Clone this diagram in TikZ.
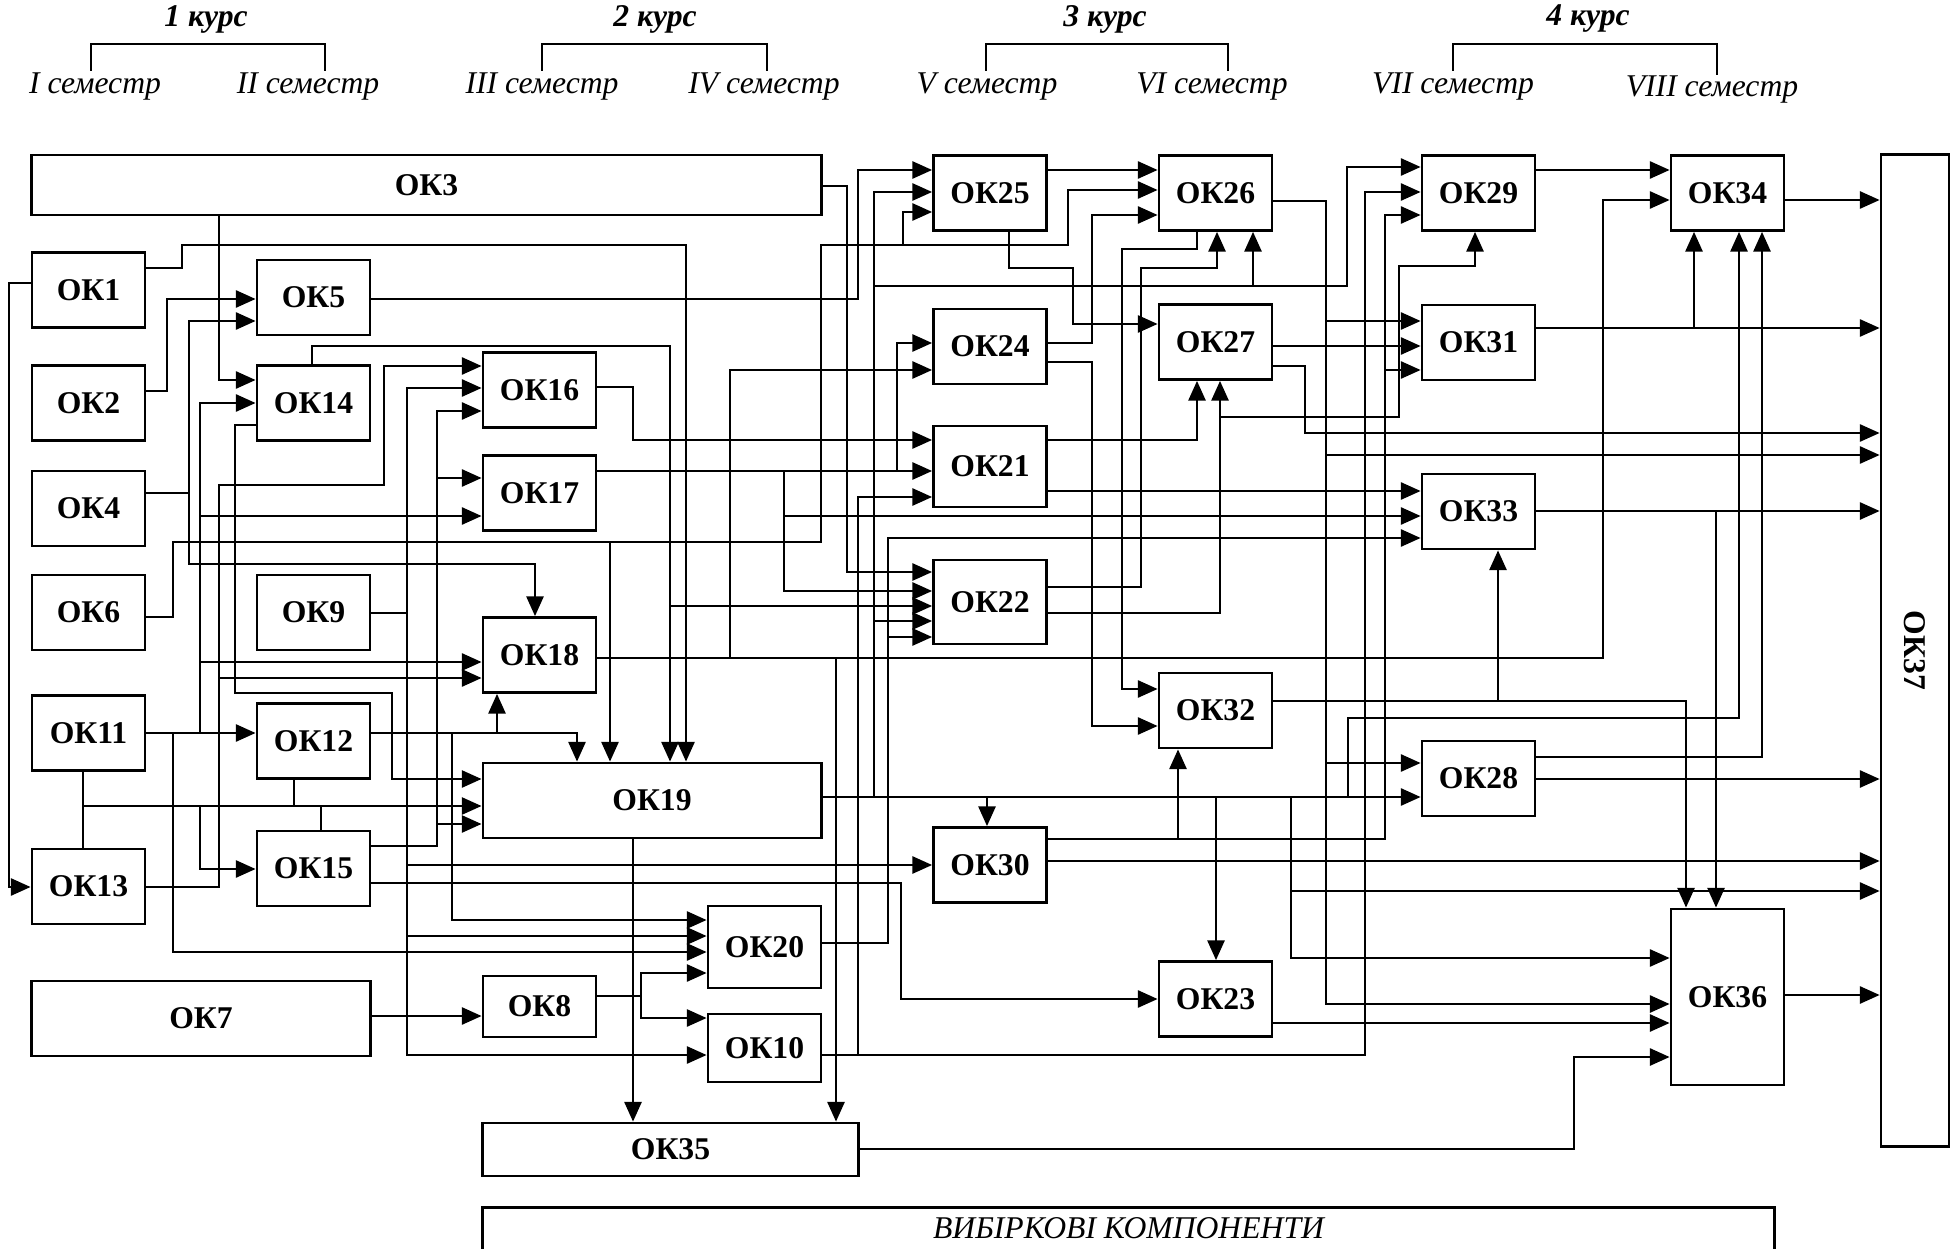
\documentclass[tikz,border=0pt]{standalone}
\usepackage{fontspec}
\usepackage{graphicx}
\setmainfont{Liberation Serif}
\usetikzlibrary{arrows.meta}
\tikzset{
  okbox/.style={draw, line width=0.8pt, inner sep=0pt, minimum width=1.13cm, minimum height=0.75cm,
    font=\fontsize{9}{10}\selectfont\bfseries},
  arr/.style={line width=0.55pt, -{Triangle[length=5.6pt,width=4.9pt]}},
  ln/.style={line width=0.55pt},
  kurs/.style={font=\fontsize{9}{10}\selectfont\bfseries\itshape},
  sem/.style={font=\fontsize{9}{10}\selectfont\itshape},
}
\begin{document}
\begin{tikzpicture}[x=0.01cm, y=-0.01cm]
\useasboundingbox (0,0) rectangle (1955,1249);
\clip (0,0) rectangle (1955,1249);

% courses and semesters
\node[kurs] (k1) at (206,19) {1 курс};
\node[kurs] (k2) at (655,19) {2 курс};
\node[kurs] (k3) at (1105,19) {3 курс};
\node[kurs] (k4) at (1588,19) {4 курс};
\node[sem] (s1) at (95,87) {I семестр};
\node[sem] (s2) at (308,87) {II семестр};
\node[sem] (s3) at (542,87) {III семестр};
\node[sem] (s4) at (764,87) {IV семестр};
\node[sem] (s5) at (987,87) {V семестр};
\node[sem] (s6) at (1212,87) {VI семестр};
\node[sem] (s7) at (1453,87) {VII семестр};
\node[sem] (s8) at (1712,90) {VIII семестр};
\draw[ln] (91,71) |- (325,44) -- (325,71);
\draw[ln] (542,71) |- (767,44) -- (767,71);
\draw[ln] (986,71) |- (1228,44) -- (1228,71);
\draw[ln] (1453,71) |- (1717,44) -- (1717,75);

% components
\node[okbox, minimum width=7.89cm, minimum height=0.6cm] (ok3) at (426.5,185) {ОК3};
\node[okbox] (ok1) at (88.5,290) {ОК1};
\node[okbox] (ok2) at (88.5,403) {ОК2};
\node[okbox] (ok4) at (88.5,508.5) {ОК4};
\node[okbox] (ok6) at (88.5,612.5) {ОК6};
\node[okbox] (ok11) at (88.5,733) {ОК11};
\node[okbox] (ok13) at (88.5,886.5) {ОК13};
\node[okbox, minimum width=3.38cm] (ok7) at (201,1018.5) {ОК7};
\node[okbox] (ok5) at (313.5,297.5) {ОК5};
\node[okbox] (ok14) at (313.5,403) {ОК14};
\node[okbox] (ok9) at (313.5,612.5) {ОК9};
\node[okbox] (ok12) at (313.5,741) {ОК12};
\node[okbox] (ok15) at (313.5,868.5) {ОК15};
\node[okbox] (ok16) at (539.5,390) {ОК16};
\node[okbox] (ok17) at (539.5,493) {ОК17};
\node[okbox] (ok18) at (539.5,655) {ОК18};
\node[okbox, minimum width=3.38cm] (ok19) at (652,800.5) {ОК19};
\node[okbox, minimum height=0.61cm] (ok8) at (539.5,1006.5) {ОК8};
\node[okbox, minimum width=3.75cm, minimum height=0.53cm] (ok35) at (670.5,1149.5) {ОК35};
\node[okbox, minimum height=0.82cm] (ok20) at (764.5,947) {ОК20};
\node[okbox, minimum height=0.68cm] (ok10) at (764.5,1048) {ОК10};
\node[okbox] (ok25) at (990,193) {ОК25};
\node[okbox] (ok24) at (990,346.5) {ОК24};
\node[okbox, minimum height=0.81cm] (ok21) at (990,466.5) {ОК21};
\node[okbox, minimum height=0.84cm] (ok22) at (990,602) {ОК22};
\node[okbox] (ok30) at (990,865) {ОК30};
\node[okbox] (ok26) at (1215.5,193) {ОК26};
\node[okbox] (ok27) at (1215.5,342) {ОК27};
\node[okbox] (ok32) at (1215.5,710.5) {ОК32};
\node[okbox] (ok23) at (1215.5,999) {ОК23};
\node[okbox] (ok29) at (1478.5,193) {ОК29};
\node[okbox] (ok31) at (1478.5,342.5) {ОК31};
\node[okbox] (ok33) at (1478.5,511.5) {ОК33};
\node[okbox] (ok28) at (1478.5,778.5) {ОК28};
\node[okbox] (ok34) at (1727.5,193) {ОК34};
\node[okbox, minimum height=1.76cm] (ok36) at (1727.5,997) {ОК36};
\node[okbox, minimum width=0.68cm, minimum height=9.91cm] (ok37) at (1915,650.5) {\rotatebox{-90}{ОК37}};
\node[draw, line width=0.8pt, anchor=north, minimum width=12.91cm, minimum height=0.9cm] (vyb) at (1128.5,1206) {};
\node[sem] (vybtxt) at (1128.5,1228) {ВИБІРКОВІ КОМПОНЕНТИ};

% OK3
\draw[arr] (ok3.south -| 219,0) |- (ok14.west |- 0,380);
\draw[arr] (ok3.east |- 0,186) -| (847,572) -- (ok22.west |- 0,572);
% OK1, OK2, OK4
\draw[arr] (ok1.east |- 0,268) -| (182,245) -| (ok19.north -| 686,0);
\draw[arr] (ok1.west |- 0,283) -| (9,887) -- (ok13.west |- 0,887);
\draw[arr] (ok2.east |- 0,391) -| (167,299) -- (ok5.west |- 0,299);
\draw[arr] (ok4.east |- 0,493) -| (189,321) -- (ok5.west |- 0,321);
\draw[arr] (189,493) |- (535,564) -- (ok18.north -| 535,0);
% OK5, OK6
\draw[arr] (ok5.east |- 0,299) -| (858,170) -- (ok25.west |- 0,170);
\draw[arr] (ok6.east |- 0,617) -| (173,542) -| (821,245) -| (1068,190) -- (ok26.west |- 0,190);
\draw[arr] (903,245) |- (ok25.west |- 0,212);
\draw[arr] (610,542) -- (ok19.north -| 610,0);
% OK11
\draw[arr] (ok11.east |- 0,733) -- (ok12.west |- 0,733);
\draw[arr] (200,733) |- (ok14.west |- 0,403);
\draw[arr] (200,516) -- (ok17.west |- 0,516);
\draw[arr] (200,662) -- (ok18.west |- 0,662);
\draw[arr] (173,733) |- (ok20.west |- 0,952);
\draw[ln] (ok11.south -| 83,0) -- (ok13.north -| 83,0);
\draw[arr] (83,806) -- (ok19.west |- 0,806);
\draw[ln] (ok12.south -| 294,0) -- (294,806);
\draw[ln] (ok15.north -| 321,0) -- (321,806);
\draw[arr] (200,806) |- (ok15.west |- 0,869);
% OK13, OK14
\draw[arr] (ok13.east |- 0,887) -| (219,485) -| (384,366) -- (ok16.west |- 0,366);
\draw[arr] (219,678) -- (ok18.west |- 0,678);
\draw[arr] (ok14.north -| 312,0) |- (670,346) -- (ok19.north -| 670,0);
\draw[arr] (670,606) -- (ok22.west |- 0,606);
\draw[arr] (ok14.west |- 0,425) -| (235,693) -| (392,779) -- (ok19.west |- 0,779);
% OK12, OK9, OK15
\draw[arr] (ok12.east |- 0,733) -| (ok19.north -| 577,0);
\draw[arr] (497,733) -- (ok18.south -| 497,0);
\draw[arr] (452,733) |- (ok20.west |- 0,920);
\draw[arr] (ok9.east |- 0,613) -| (407,388) -- (ok16.west |- 0,388);
\draw[arr] (407,613) |- (ok10.west |- 0,1055);
\draw[arr] (407,936) -- (ok20.west |- 0,936);
\draw[arr] (407,865) -- (ok30.west |- 0,865);
\draw[arr] (ok15.east |- 0,846) -| (437,411) -- (ok16.west |- 0,411);
\draw[arr] (437,478) -- (ok17.west |- 0,478);
\draw[arr] (437,824) -- (ok19.west |- 0,824);
\draw[arr] (ok15.east |- 0,883) -| (901,999) -- (ok23.west |- 0,999);
% OK7, OK8
\draw[arr] (ok7.east |- 0,1016) -- (ok8.west |- 0,1016);
\draw[arr] (ok8.east |- 0,996) -| (641,973) -- (ok20.west |- 0,973);
\draw[arr] (641,996) |- (ok10.west |- 0,1018);
% OK16, OK17, OK18
\draw[arr] (ok16.east |- 0,387) -| (633,440) -- (ok21.west |- 0,440);
\draw[arr] (ok17.east |- 0,471) -- (ok21.west |- 0,471);
\draw[arr] (897,471) |- (ok24.west |- 0,343);
\draw[arr] (784,471) |- (ok22.west |- 0,591);
\draw[arr] (784,516) -- (ok33.west |- 0,516);
\draw[arr] (ok18.east |- 0,658) -| (1603,200) -- (ok34.west |- 0,200);
\draw[arr] (730,658) |- (ok24.west |- 0,370);
\draw[arr] (836,658) -- (ok35.north -| 836,0);
% OK19
\draw[arr] (ok19.east |- 0,797) -- (ok28.west |- 0,797);
\draw[arr] (874,797) |- (ok25.west |- 0,192);
\draw[arr] (874,621) -- (ok22.west |- 0,621);
\draw[arr] (874,286) -| (ok26.south -| 1253,0);
\draw[arr] (1253,286) -| (1347,167) -- (ok29.west |- 0,167);
\draw[arr] (987,797) -- (ok30.north -| 987,0);
\draw[arr] (1216,797) -- (ok23.north -| 1216,0);
\draw[arr] (1291,797) |- (ok36.west |- 0,958);
\draw[arr] (1291,891) -- (ok37.west |- 0,891);
\draw[arr] (1348,797) |- (1739,718) -- (ok34.south -| 1739,0);
\draw[arr] (ok19.south -| 633,0) -- (ok35.north -| 633,0);
% OK10, OK20
\draw[arr] (ok10.east |- 0,1055) -| (1365,192) -- (ok29.west |- 0,192);
\draw[arr] (858,1055) |- (ok21.west |- 0,497);
\draw[arr] (ok20.east |- 0,943) -| (888,538) -- (ok33.west |- 0,538);
\draw[arr] (888,637) -- (ok22.west |- 0,637);
% OK25, OK24, OK21, OK22
\draw[arr] (ok25.east |- 0,170) -- (ok26.west |- 0,170);
\draw[arr] (ok25.south -| 1009,0) |- (1073,268) |- (ok27.west |- 0,324);
\draw[arr] (ok24.east |- 0,343) -| (1092,215) -- (ok26.west |- 0,215);
\draw[arr] (ok24.east |- 0,362) -| (1092,726) -- (ok32.west |- 0,726);
\draw[arr] (ok21.east |- 0,440) -| (ok27.south -| 1197,0);
\draw[arr] (ok21.east |- 0,491) -- (ok33.west |- 0,491);
\draw[arr] (ok22.east |- 0,587) -| (1141,268) -| (ok26.south -| 1217,0);
\draw[arr] (ok22.east |- 0,613) -| (ok27.south -| 1220,0);
\draw[arr] (1220,417) -| (1399,266) -| (ok29.south -| 1475,0);
% OK26, OK27, OK30
\draw[arr] (ok26.east |- 0,201) -| (1326,1004) -- (ok36.west |- 0,1004);
\draw[arr] (1326,321) -- (ok31.west |- 0,321);
\draw[arr] (1326,455) -- (ok37.west |- 0,455);
\draw[arr] (1326,763) -- (ok28.west |- 0,763);
\draw[arr] (ok26.south -| 1197,0) |- (1122,249) |- (ok32.west |- 0,689);
\draw[arr] (ok27.east |- 0,346) -- (ok31.west |- 0,346);
\draw[arr] (ok27.east |- 0,366) -| (1305,433) -- (ok37.west |- 0,433);
\draw[arr] (ok30.east |- 0,839) -| (1385,215) -- (ok29.west |- 0,215);
\draw[arr] (1385,370) -- (ok31.west |- 0,370);
\draw[arr] (1178,839) -- (ok32.south -| 1178,0);
\draw[arr] (ok30.east |- 0,861) -- (ok37.west |- 0,861);
% OK32, OK23, OK35
\draw[arr] (ok32.east |- 0,701) -| (ok36.north -| 1686,0);
\draw[arr] (1498,701) -- (ok33.south -| 1498,0);
\draw[arr] (ok23.east |- 0,1023) -- (ok36.west |- 0,1023);
\draw[arr] (ok35.east |- 0,1149) -| (1574,1057) -- (ok36.west |- 0,1057);
% 4th year
\draw[arr] (ok29.east |- 0,170) -- (ok34.west |- 0,170);
\draw[arr] (ok31.east |- 0,328) -- (ok37.west |- 0,328);
\draw[arr] (1694,328) -- (ok34.south -| 1694,0);
\draw[arr] (ok33.east |- 0,511) -- (ok37.west |- 0,511);
\draw[arr] (1716,511) -- (ok36.north -| 1716,0);
\draw[arr] (ok28.east |- 0,757) -| (ok34.south -| 1762,0);
\draw[arr] (ok28.east |- 0,779) -- (ok37.west |- 0,779);
\draw[arr] (ok34.east |- 0,200) -- (ok37.west |- 0,200);
\draw[arr] (ok36.east |- 0,995) -- (ok37.west |- 0,995);
\end{tikzpicture}
\end{document}
